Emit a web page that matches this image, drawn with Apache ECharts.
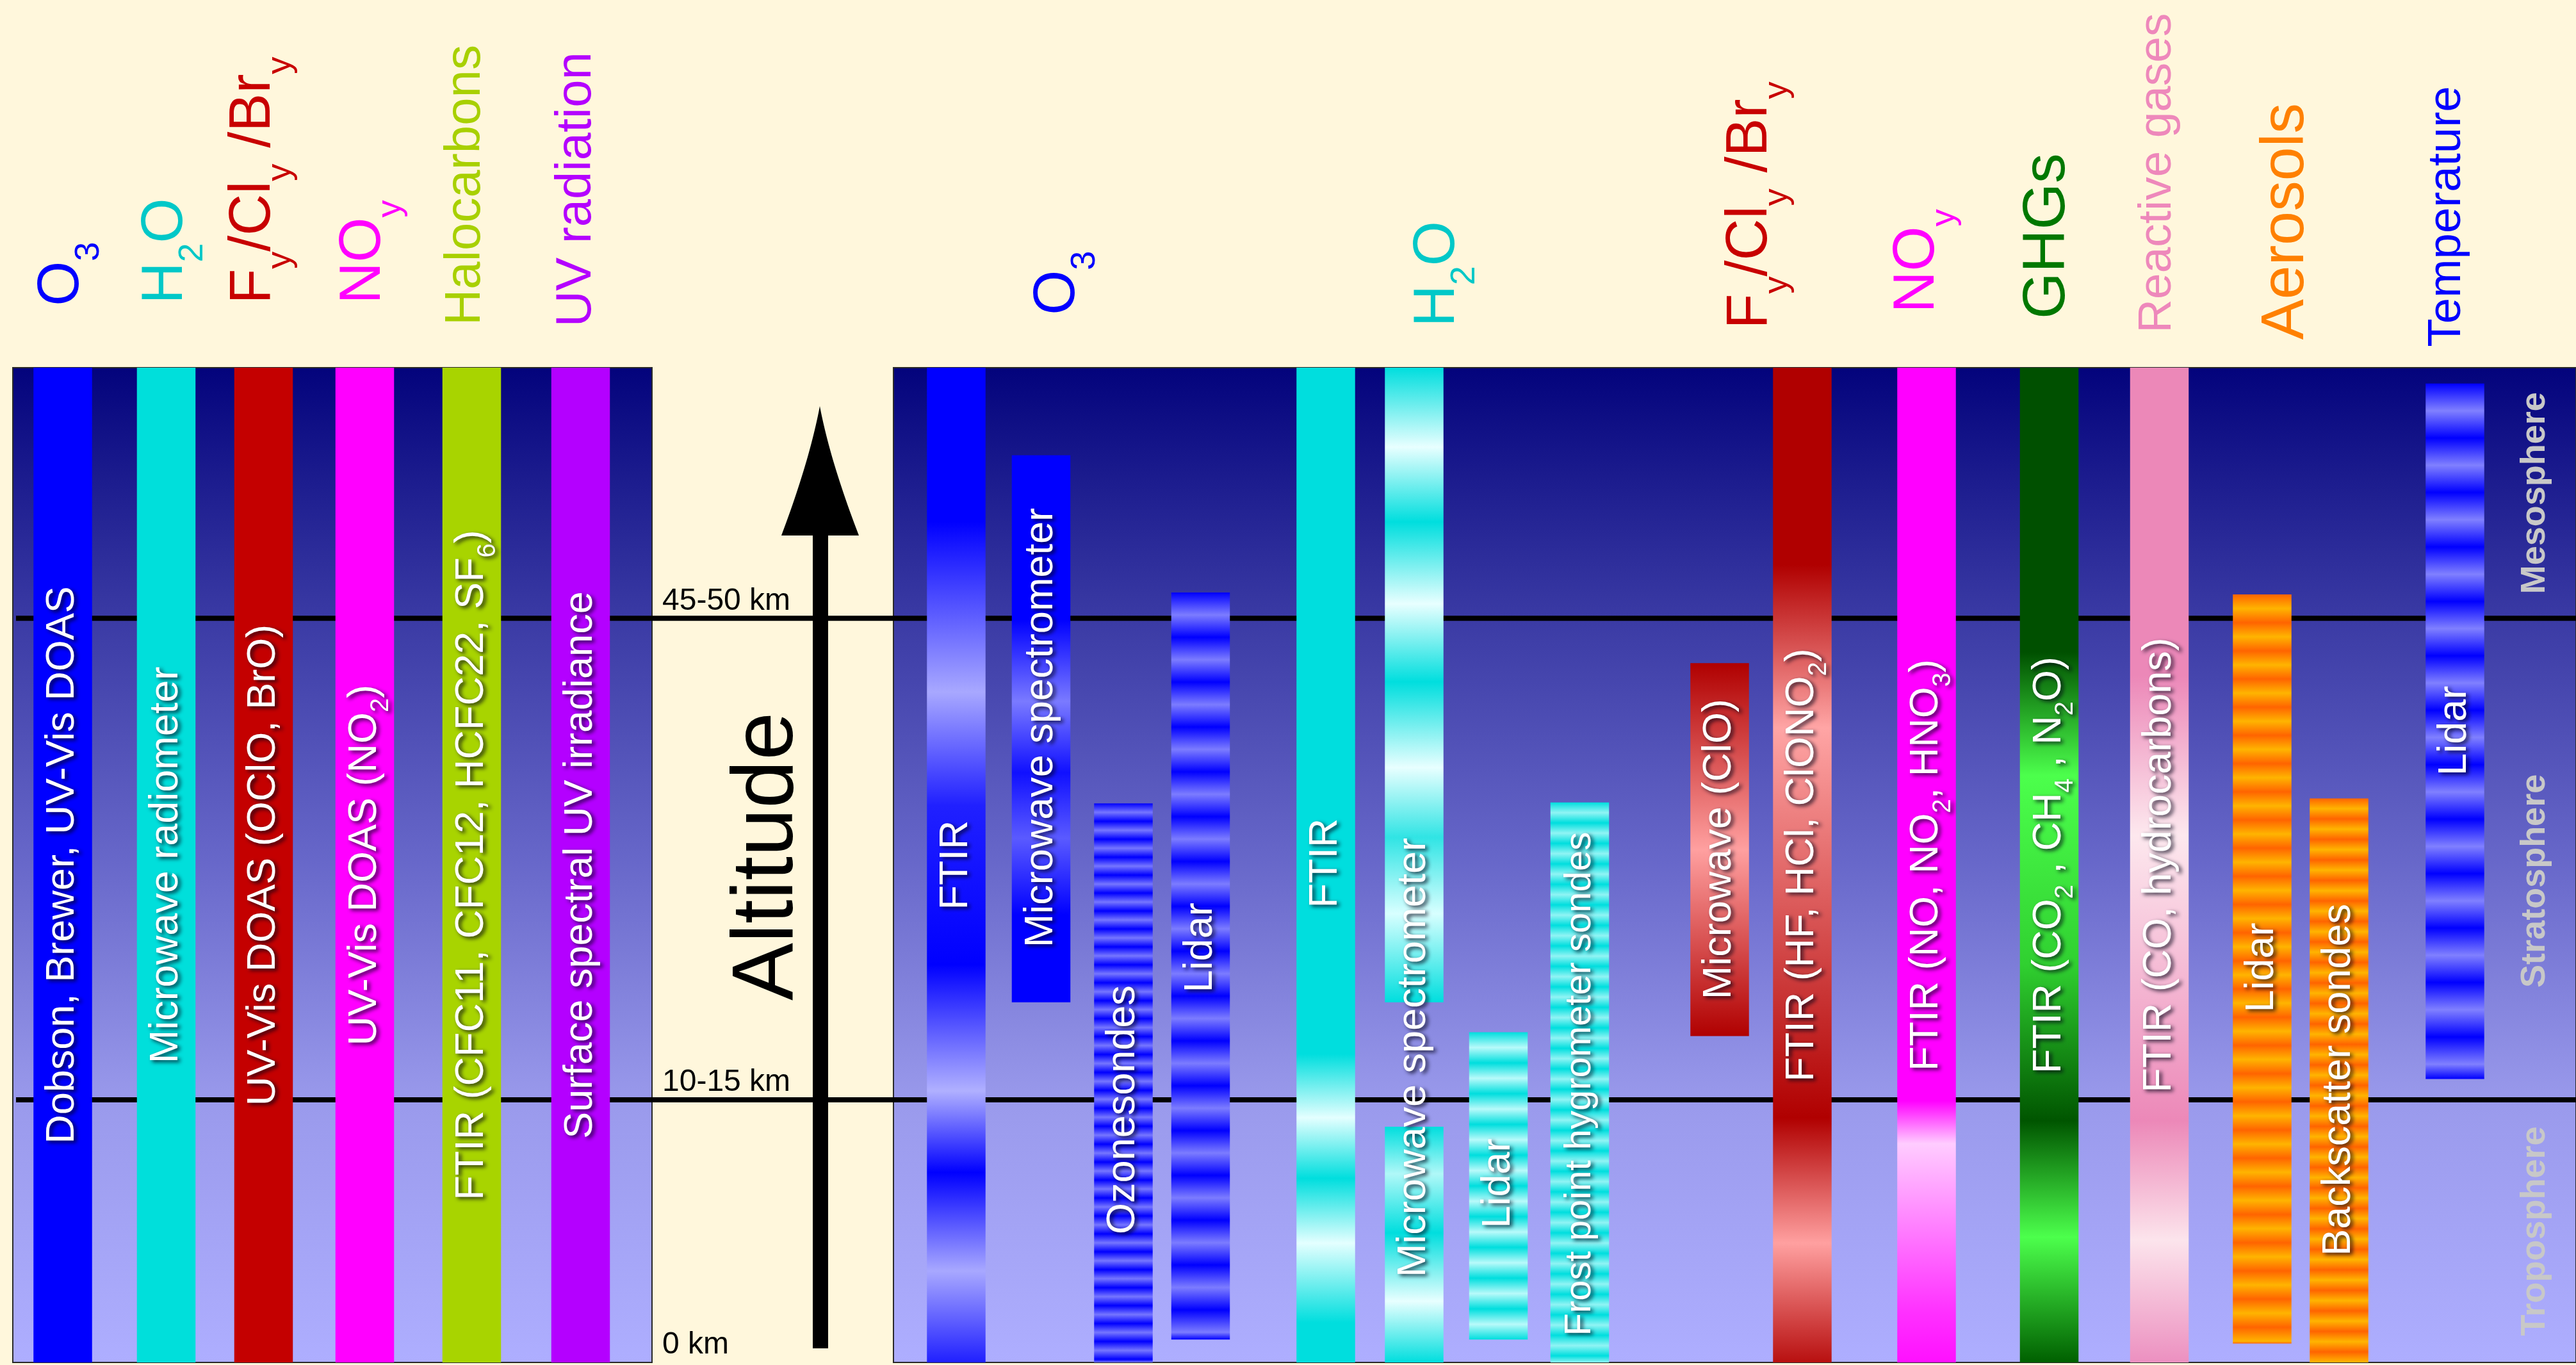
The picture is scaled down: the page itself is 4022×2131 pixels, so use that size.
<!DOCTYPE html>
<html><head><meta charset="utf-8">
<script src="https://cdn.jsdelivr.net/npm/echarts@6/dist/echarts.min.js"></script>
<style>html,body{margin:0;padding:0;background:#fff7dc;}#c{width:4022px;height:2131px;}</style>
</head><body><div id="c"></div>
<script>
// ================= DATA =================
// schematic altitude scale: 0 = ground, 100 = top of the panels
const altitudeLevels = [0, 26.4, 74.8];
const altitudeLevelLabels = ['0 km', '10-15 km', '45-50 km'];
const layerNames = ['Troposphere', 'Stratosphere', 'Mesosphere'];
const layerLabelAt = [13.2, 48.4, 87.4];
const layerLabelX = 393.8;
// panels (x extent in column units)
const panelSpans = [[0, 99.8], [137.5, 400.2]];

// column headers (species)
const headerLabels = ['O_{3}', 'H_{2}O', 'F_{y}/Cl_{y} /Br_{y}', 'NO_{y}', 'Halocarbons', 'UV radiation',
  'O_{3}', 'H_{2}O', 'F_{y}/Cl_{y} /Br_{y}', 'NO_{y}', 'GHGs', 'Reactive gases', 'Aerosols', 'Temperature'];
const headerX = [7.7, 23.9, 37.6, 54.8, 70.7, 88.0, 163.2, 222.5, 271.3, 297.4, 317.7, 334.9, 355.0, 380.1];
const headerAt = [106.2, 106.4, 106.4, 106.4, 104.25, 104.1, 105.3, 104.1, 103.9, 105.5, 104.9, 103.5, 102.8, 102.1];

// instruments (bars): column position, altitude range, label
const instrumentNames = [
  'Dobson, Brewer, UV-Vis DOAS', 'Microwave radiometer', 'UV-Vis DOAS (OClO, BrO)', 'UV-Vis DOAS (NO_{2})',
  'FTIR (CFC11, CFC12, HCFC22, SF_{6})', 'Surface spectral UV irradiance',
  'FTIR', 'Microwave spectrometer', 'Ozonesondes', 'Lidar',
  'FTIR', '', 'Microwave spectrometer', 'Lidar', 'Frost point hygrometer sondes',
  'Microwave (ClO)', 'FTIR (HF, HCl, ClONO_{2})', 'FTIR (NO, NO_{2}, HNO_{3})', 'FTIR (CO_{2} , CH_{4} , N_{2}O)',
  'FTIR (CO, hydrocarbons)', 'Lidar', 'Backscatter sondes', 'Lidar'];
const instrumentX = [7.8, 23.95, 39.15, 54.95, 71.65, 88.65,
  147.3, 160.55, 173.4, 185.45,
  205, 218.8, 218.8, 231.95, 244.65,
  266.5, 279.4, 298.8, 317.95, 335.15, 351.2, 363.2, 381.3];
const instrumentBottom = [0, 0, 0, 0, 0, 0,
  0, 36.2, 0, 2.3,
  0, 36.2, 0, 2.3, 0,
  32.8, 0, 0, 0, 0, 1.9, 0, 28.5];
const instrumentTop = [100, 100, 100, 100, 100, 100,
  100, 91.2, 56.2, 77.4,
  100, 100, 23.7, 33.2, 56.3,
  70.3, 100, 100, 100, 100, 77.2, 56.7, 98.4];
const instrumentLabelAt = [50, 50, 50, 50, 50, 50,
  50, 63.8, 25.4, 41.7,
  50.2, 0, 30.65, 18.0, 28.0,
  51.6, 50, 50, 50, 50, 39.7, 28.4, 63.5];

// ================= STYLE =================
const FONT = '"Liberation Sans", Arial, Helvetica, sans-serif';
const BG = '#fff7dc';
const BAR_W = 9.15;
const headerColors = ['#0000ff', '#00c8c8', '#c80000', '#ff00ff', '#a8d000', '#b400ff',
  '#0000ff', '#00c8c8', '#c80000', '#ff00ff', '#007800', '#ee88bb', '#ff8000', '#0000ff'];
const headerSizes = [90, 90, 90, 90, 78, 78, 90, 90, 90, 90, 93, 73, 95, 72.5];
const labelSizes = instrumentNames.map((n, i) => i === 14 ? 58 : 63);
const instrumentFills = [
  '#0000ff', '#00dfdb', '#c40000', '#ff00ff', '#a8d400', '#b400ff',
  {stops: [[0, '#0000ff'], [0.155, '#0000ff'], [0.326, '#a8a8ff'], [0.44, '#2020ff'], [0.6, '#0000ff'], [0.727, '#b0b0ff'], [0.809, '#0000ff'], [0.908, '#a8a8ff'], [1, '#2020ff']]},
  {stops: [[0, '#0000ff'], [0.3, '#0000ff'], [0.45, '#7a7aff'], [0.58, '#1010ff'], [0.7, '#5a5aff'], [0.84, '#0000ff'], [1, '#0000ff']]},
  {stripes: ['#0000ff', '#7676ff'], period: 28},
  {stripes: ['#0000ff', '#7c7cff'], period: 70},
  {stops: [[0, '#00dede'], [0.69, '#00dede'], [0.754, '#e4ffff'], [0.815, '#00dede'], [0.88, '#e4ffff'], [0.96, '#00dede'], [1, '#00dede']]},
  {stops: [[0, '#00dede'], [0.125, '#e8ffff'], [0.243, '#00dede'], [0.372, '#e8ffff'], [0.495, '#00dede'], [0.63, '#e8ffff'], [0.74, '#30e4e4'], [0.86, '#d8ffff'], [1, '#00dede']]},
  {stops: [[0, '#00dede'], [0.2, '#b0f8f8'], [0.45, '#00dede'], [0.74, '#e8ffff'], [1, '#00dede']]},
  {stripes: ['#00dede', '#b8fafa'], period: 48},
  {stripes: ['#00dede', '#90f4f4'], period: 32},
  {stops: [[0, '#b00000'], [0.5, '#ffa0a0'], [1, '#b00000']]},
  {stops: [[0, '#b00000'], [0.198, '#b00000'], [0.362, '#ffa5a5'], [0.754, '#b00000'], [0.88, '#ffa0a0'], [1, '#b81010']]},
  {stops: [[0, '#ff00ff'], [0.737, '#ff00ff'], [0.78, '#ffccff'], [0.95, '#ff30ff'], [1, '#ff10ff']]},
  {stops: [[0, '#005000'], [0.286, '#005000'], [0.41, '#4cff4c'], [0.6, '#30d030'], [0.757, '#005500'], [0.874, '#4cff4c'], [1, '#006000']]},
  {stops: [[0, '#ec88b8'], [0.31, '#ec88b8'], [0.47, '#fde8ee'], [0.757, '#ec88b8'], [0.877, '#fce4ec'], [1, '#ec90c0']]},
  {stripes: ['#ff6400', '#ffb400'], period: 44},
  {stripes: ['#ff6400', '#ffb400'], period: 32},
  {stripes: ['#0000ff', '#8080ff'], period: 85}
];
const panelFill = [[0, '#03037c'], [0.25, '#3a3aa4'], [0.5, '#6868ca'], [0.74, '#9a9aec'], [1, '#aeaeff']];

// ================= HELPERS =================
const mctx = document.createElement('canvas').getContext('2d');
function fontStr(size, weight) { return (weight || 'normal') + ' ' + size + 'px ' + FONT; }
function measure(str, font) { mctx.font = font; return mctx.measureText(str).width; }
function parseMarkup(s) {
  const out = []; const re = /_\{([^}]*)\}/g; let last = 0, m;
  while ((m = re.exec(s))) {
    if (m.index > last) out.push({t: s.slice(last, m.index), sub: false});
    out.push({t: m[1], sub: true}); last = re.lastIndex;
  }
  if (last < s.length) out.push({t: s.slice(last), sub: false});
  return out;
}
// text reading bottom-to-top; x = text middle line, y = start (or centre)
function verticalText(markup, x, y, o) {
  const size = o.size, sub = o.subSize || Math.round(size * 0.6), weight = o.weight || 'normal';
  const fMain = fontStr(size, weight), fSub = fontStr(sub, weight);
  const parts = parseMarkup(markup).map(p => ({...p, font: p.sub ? fSub : fMain, w: measure(p.t, p.sub ? fSub : fMain)}));
  const total = parts.reduce((a, p) => a + p.w, 0);
  const start = o.centered ? y + total / 2 : y;
  const subMid = 0.3465 * size + (o.drop || 0.3) * size - 0.3465 * sub;
  const els = []; let adv = 0;
  parts.forEach(p => {
    els.push({
      type: 'text', x: x + (p.sub ? subMid : 0), y: start - adv, rotation: Math.PI / 2, silent: true,
      style: {
        text: p.t, font: p.font, fill: o.fill, align: 'left', verticalAlign: 'middle',
        textAlign: 'left', textVerticalAlign: 'middle',
        textShadowColor: o.shadowColor || 'transparent', textShadowBlur: o.shadowBlur || 0,
        textShadowOffsetX: o.shadowX || 0, textShadowOffsetY: o.shadowY || 0
      }
    });
    adv += p.w;
  });
  return els;
}
function grad(stops) {
  return new echarts.graphic.LinearGradient(0, 0, 0, 1, stops.map(s => ({offset: s[0], color: s[1]})));
}
function makeFill(spec, h) {
  if (typeof spec === 'string') return spec;
  if (spec.stops) return grad(spec.stops);
  const n = h / spec.period; const stops = [];
  for (let k = 0; ; k++) {
    const off = Math.min(1, k * 0.5 / n);
    stops.push([off, spec.stripes[k % 2]]);
    if (off >= 1) break;
  }
  return grad(stops);
}
// arrow head outline (concave sides) as polygon points
function quad(p0, c, p2, n) {
  const pts = [];
  for (let k = 0; k <= n; k++) {
    const t = k / n, u = 1 - t;
    pts.push([u * u * p0[0] + 2 * u * t * c[0] + t * t * p2[0], u * u * p0[1] + 2 * u * t * c[1] + t * t * p2[1]]);
  }
  return pts;
}
const arrowHead = quad([1280, 634], [1264, 719], [1220, 836], 24)
  .concat(quad([1341, 836], [1296, 719], [1280, 634], 24));

// ================= CHART =================
const chart = echarts.init(document.getElementById('c'), null, {renderer: 'canvas'});
const option = {
  backgroundColor: BG,
  animation: false,
  grid: {left: 20, top: 574, width: 4002, height: 1553, containLabel: false, outerBoundsMode: 'none'},
  xAxis: {type: 'value', min: 0, max: 400.2, show: false},
  yAxis: {
    type: 'value', min: 0, max: 100, position: 'left', offset: -1006,
    axisLine: {show: false}, axisTick: {show: false}, splitLine: {show: false},
    axisLabel: {
      inside: true, margin: 8, customValues: altitudeLevels,
      formatter: v => altitudeLevelLabels[altitudeLevels.indexOf(v)] || '',
      verticalAlign: 'bottom', align: 'left', fontSize: 48, fontFamily: FONT, color: '#000',
      padding: [0, 0, 3, 0]
    }
  },
  graphic: [
    {type: 'rect', z: 50, shape: {x: 1269, y: 830, width: 24, height: 1275}, style: {fill: '#000'}},
    {type: 'polygon', z: 50, shape: {points: arrowHead}, style: {fill: '#000'}},
    {type: 'text', z: 50, x: 1200, y: 1562, rotation: Math.PI / 2,
      style: {text: 'Altitude', font: '135px ' + FONT, fill: '#000', align: 'left', verticalAlign: 'middle', textAlign: 'left', textVerticalAlign: 'middle'}}
  ],
  series: [
    { // panel backgrounds
      type: 'custom', z: 1, silent: true,
      data: panelSpans,
      renderItem: (params, api) => {
        const a = api.coord([api.value(0), 100]), b = api.coord([api.value(1), 0]);
        return {type: 'rect', shape: {x: a[0], y: a[1], width: b[0] - a[0], height: b[1] - a[1]},
          style: {fill: grad(panelFill), stroke: '#2a2a2a', lineWidth: 2}};
      }
    },
    { // altitude reference lines
      type: 'custom', z: 2, silent: true,
      data: altitudeLevels.slice(1).map(v => [0, v]),
      renderItem: (params, api) => {
        const cs = params.coordSys; const y = api.coord([0, api.value(1)])[1];
        return {type: 'line', shape: {x1: cs.x + 5, y1: y, x2: cs.x + cs.width, y2: y}, style: {stroke: '#000', lineWidth: 8}};
      }
    },
    { // instrument bars
      type: 'custom', z: 3, silent: true,
      data: instrumentX.map((x, i) => [x, instrumentBottom[i], instrumentTop[i]]),
      renderItem: (params, api) => {
        const i = params.dataIndex;
        const p0 = api.coord([api.value(0), api.value(2)]), p1 = api.coord([api.value(0), api.value(1)]);
        const w = api.size([BAR_W, 0])[0]; const h = p1[1] - p0[1];
        return {type: 'rect', shape: {x: p0[0] - w / 2, y: p0[1], width: w, height: h},
          style: {fill: makeFill(instrumentFills[i], h)}};
      }
    },
    { // instrument labels
      type: 'custom', z: 4, silent: true,
      data: instrumentX.map((x, i) => [x, instrumentLabelAt[i]]),
      renderItem: (params, api) => {
        const i = params.dataIndex; const name = instrumentNames[i];
        if (!name) return null;
        const p = api.coord([api.value(0), api.value(1)]);
        return {type: 'group', children: verticalText(name, p[0], p[1], {
          size: labelSizes[i], subSize: 40, drop: 0.28, centered: true, fill: '#ffffff',
          shadowColor: 'rgba(0,0,20,0.8)', shadowBlur: 6, shadowX: 4, shadowY: 3})};
      }
    },
    { // species headers
      type: 'custom', z: 4, silent: true,
      data: headerX.map((x, i) => [x, headerAt[i]]),
      renderItem: (params, api) => {
        const i = params.dataIndex;
        const p = api.coord([api.value(0), api.value(1)]);
        return {type: 'group', children: verticalText(headerLabels[i], p[0], p[1], {
          size: headerSizes[i], subSize: 54, drop: 0.33, centered: false, fill: headerColors[i]})};
      }
    },
    { // atmospheric layer names
      type: 'custom', z: 4, silent: true,
      data: layerLabelAt.map(v => [layerLabelX, v]),
      renderItem: (params, api) => {
        const i = params.dataIndex;
        const p = api.coord([api.value(0), api.value(1)]);
        return {type: 'group', children: verticalText(layerNames[i], p[0], p[1], {
          size: 54, weight: 'bold', centered: true, fill: '#c8c8c8',
          shadowColor: '#5e5e74', shadowBlur: 0, shadowX: -4, shadowY: 1})};
      }
    }
  ]
};
chart.setOption(option);
</script>
</body></html>
